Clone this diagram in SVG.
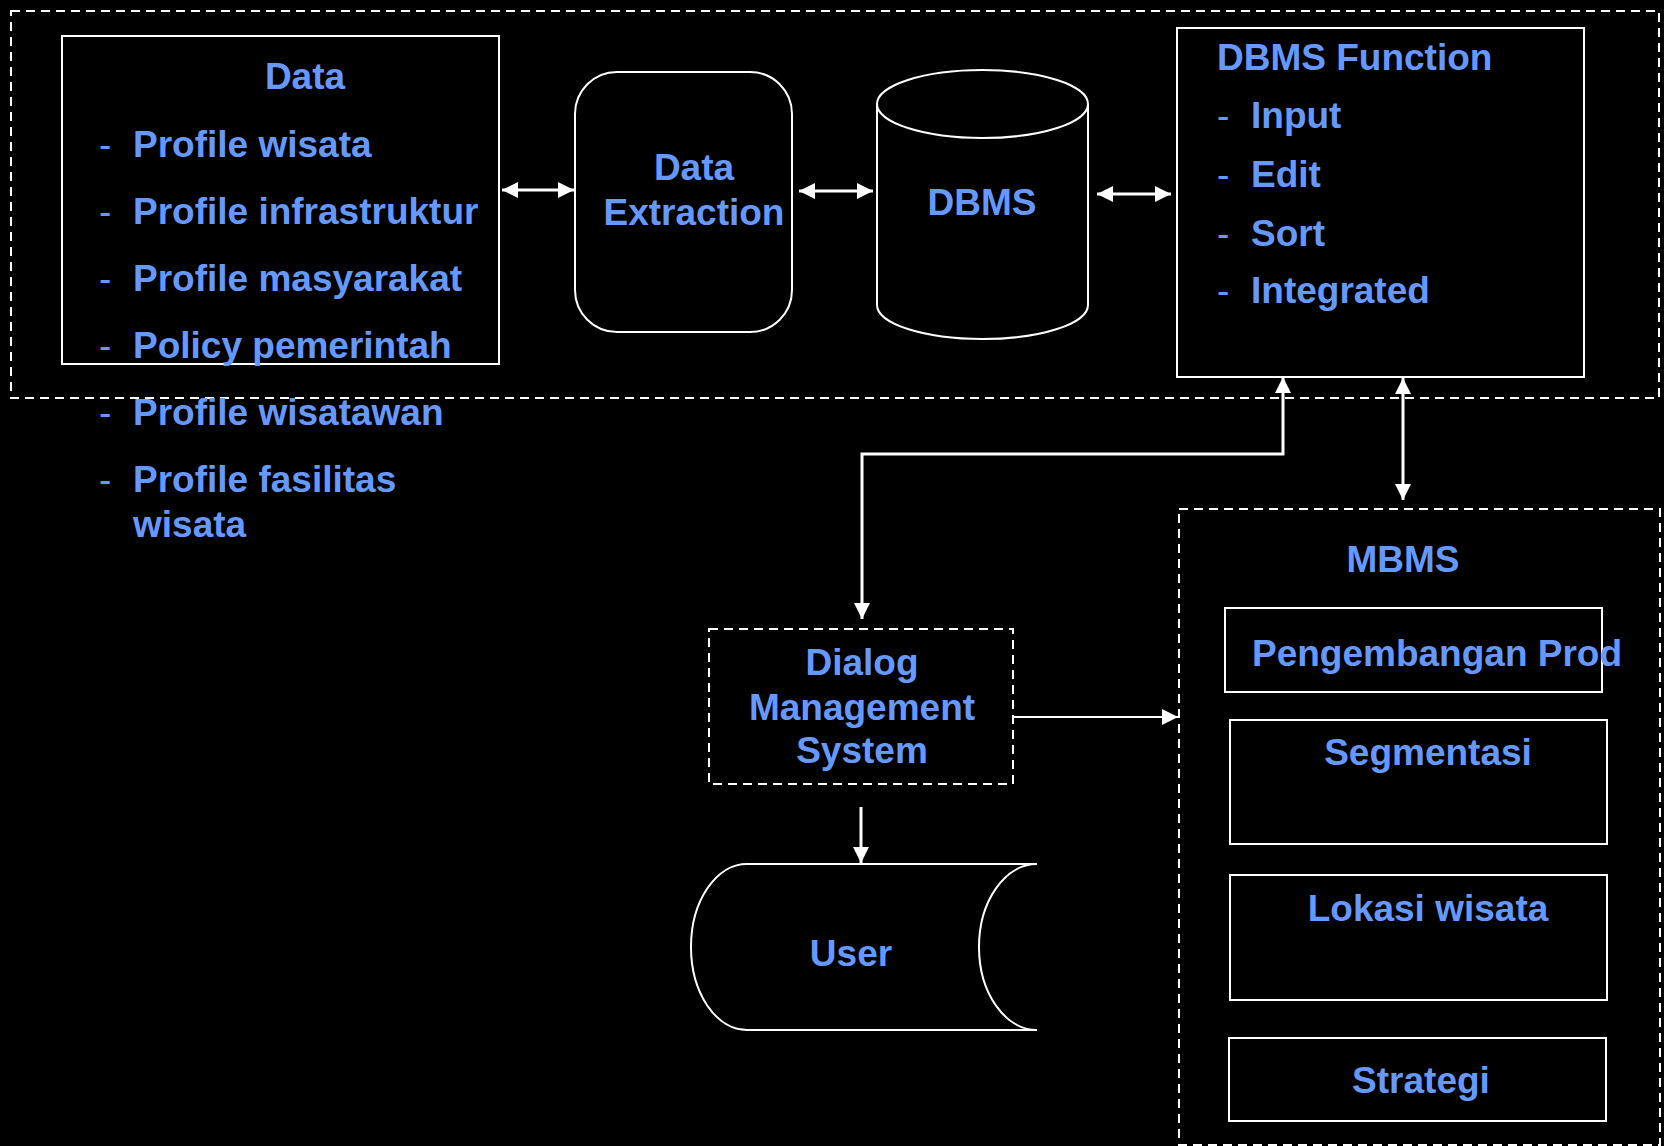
<svg xmlns="http://www.w3.org/2000/svg" width="1664" height="1146" viewBox="0 0 1664 1146">
  <style>
    .bg { fill: #000000; }
    .box { fill: none; stroke: #ffffff; stroke-width: 2; }
    .dash { fill: none; stroke: #ffffff; stroke-width: 2; stroke-dasharray: 9 6; }
    .lbl { font-family: "Liberation Sans", Arial, sans-serif; font-weight: bold; font-size: 37px; fill: #6699ff; }
    .bullet { font-weight: normal; }
    .mid { text-anchor: middle; }
    .conn { fill: none; stroke: #ffffff; stroke-width: 3; }
    .thin { fill: none; stroke: #ffffff; stroke-width: 2; }
  </style>
  <defs>
    <marker id="arrow" markerUnits="userSpaceOnUse" markerWidth="16" markerHeight="16" viewBox="0 0 16 16" refX="16" refY="8" orient="auto-start-reverse">
      <path d="M0,0 L16,8 L0,16 Z" fill="#ffffff"/>
    </marker>
  </defs>

  <rect class="bg" x="0" y="0" width="1664" height="1146"/>

  <!-- upper dashed frame: data layer -->
  <rect id="data-layer" class="dash" x="11" y="11" width="1648" height="387"/>

  <!-- Data sources -->
  <g id="data">
    <rect class="box" x="62" y="36" width="437" height="328"/>
    <text class="lbl mid" x="305" y="89">Data</text>
    <text class="lbl"><tspan class="bullet" x="99" y="157">-</tspan><tspan x="133" y="157">Profile wisata</tspan></text>
    <text class="lbl"><tspan class="bullet" x="99" y="224">-</tspan><tspan x="133" y="224">Profile infrastruktur</tspan></text>
    <text class="lbl"><tspan class="bullet" x="99" y="291">-</tspan><tspan x="133" y="291">Profile masyarakat</tspan></text>
    <text class="lbl"><tspan class="bullet" x="99" y="358">-</tspan><tspan x="133" y="358">Policy pemerintah</tspan></text>
    <text class="lbl"><tspan class="bullet" x="99" y="425">-</tspan><tspan x="133" y="425">Profile wisatawan</tspan></text>
    <text class="lbl"><tspan class="bullet" x="99" y="492">-</tspan><tspan x="133" y="492">Profile fasilitas</tspan></text>
    <text class="lbl" x="133" y="537">wisata</text>
  </g>

  <!-- Data Extraction -->
  <g id="data-extraction">
    <rect class="box" x="575" y="72" width="217" height="260" rx="42" ry="42"/>
    <text class="lbl mid" x="694" y="180">Data</text>
    <text class="lbl mid" x="694" y="225">Extraction</text>
  </g>

  <!-- DBMS storage cylinder -->
  <g id="dbms">
    <path class="box" d="M877,104 V305 A105.5,34 0 0 0 1088,305 V104"/>
    <ellipse class="box" cx="982.5" cy="104" rx="105.5" ry="34"/>
    <text class="lbl mid" x="982" y="215">DBMS</text>
  </g>

  <!-- DBMS Function -->
  <g id="dbms-function">
    <rect class="box" x="1177" y="28" width="407" height="349"/>
    <text class="lbl" x="1217" y="70">DBMS Function</text>
    <text class="lbl"><tspan class="bullet" x="1217" y="128">-</tspan><tspan x="1251" y="128">Input</tspan></text>
    <text class="lbl"><tspan class="bullet" x="1217" y="187">-</tspan><tspan x="1251" y="187">Edit</tspan></text>
    <text class="lbl"><tspan class="bullet" x="1217" y="246">-</tspan><tspan x="1251" y="246">Sort</tspan></text>
    <text class="lbl"><tspan class="bullet" x="1217" y="303">-</tspan><tspan x="1251" y="303">Integrated</tspan></text>
  </g>

  <!-- Dialog Management System -->
  <g id="dialog-management">
    <rect class="dash" x="709" y="629" width="304" height="155"/>
    <text class="lbl mid" x="862" y="675">Dialog</text>
    <text class="lbl mid" x="862" y="720">Management</text>
    <text class="lbl mid" x="862" y="763">System</text>
  </g>

  <!-- User (stored data shape) -->
  <g id="user">
    <path class="box" d="M1037,864 H747 A56,83 0 0 0 747,1030 H1037"/>
    <path class="box" d="M1037,864 A58,83 0 0 0 1037,1030"/>
    <text class="lbl mid" x="851" y="966">User</text>
  </g>

  <!-- MBMS -->
  <g id="mbms">
    <rect class="dash" x="1179" y="509" width="481" height="636"/>
    <text class="lbl mid" x="1403" y="572">MBMS</text>
  </g>
  <g id="pengembangan-prod">
    <rect class="box" x="1225" y="608" width="377" height="84"/>
    <text class="lbl" x="1252" y="666">Pengembangan Prod</text>
  </g>
  <g id="segmentasi">
    <rect class="box" x="1230" y="720" width="377" height="124"/>
    <text class="lbl mid" x="1428" y="765">Segmentasi</text>
  </g>
  <g id="lokasi-wisata">
    <rect class="box" x="1230" y="875" width="377" height="125"/>
    <text class="lbl mid" x="1428" y="921">Lokasi wisata</text>
  </g>
  <g id="strategi">
    <rect class="box" x="1229" y="1038" width="377" height="83"/>
    <text class="lbl mid" x="1421" y="1093">Strategi</text>
  </g>

  <!-- connectors -->
  <g id="connectors">
    <line class="conn" x1="502" y1="190" x2="574" y2="190" marker-start="url(#arrow)" marker-end="url(#arrow)"/>
    <line class="conn" x1="799" y1="191" x2="873" y2="191" marker-start="url(#arrow)" marker-end="url(#arrow)"/>
    <line class="conn" x1="1097" y1="194" x2="1171" y2="194" marker-start="url(#arrow)" marker-end="url(#arrow)"/>
    <path class="conn" d="M1283,377 V454 H862 V619" marker-start="url(#arrow)" marker-end="url(#arrow)"/>
    <line class="conn" x1="1403" y1="378" x2="1403" y2="500" marker-start="url(#arrow)" marker-end="url(#arrow)"/>
    <line class="thin" x1="1013" y1="717" x2="1178" y2="717" marker-end="url(#arrow)"/>
    <line class="conn" x1="861" y1="807" x2="861" y2="863" marker-end="url(#arrow)"/>
  </g>
</svg>
